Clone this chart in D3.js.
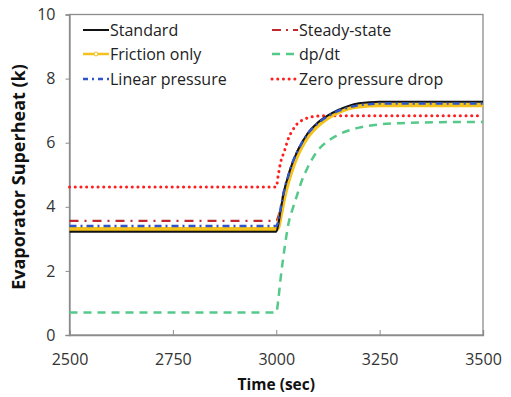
<!DOCTYPE html>
<html><head><meta charset="utf-8">
<script src="https://cdn.jsdelivr.net/npm/d3@7"></script>
<style>body{margin:0;background:#fff}svg{display:block}</style>
</head><body>
<svg id="c" width="511" height="397"></svg>
<script>
const times = [2500, 3000, 3005, 3010, 3020, 3030, 3040, 3050, 3060, 3075, 3100, 3125, 3150, 3175, 3200, 3250, 3300, 3400, 3500];
const standard = [3.22, 3.22, 3.45, 3.85, 4.55, 5.0, 5.4, 5.7, 5.95, 6.27, 6.62, 6.85, 7.02, 7.15, 7.23, 7.28, 7.28, 7.28, 7.28];
const frictionOnly = [3.30, 3.30, 3.38, 3.7, 4.35, 4.85, 5.25, 5.58, 5.85, 6.17, 6.53, 6.78, 6.96, 7.08, 7.14, 7.18, 7.18, 7.18, 7.18];
const linearPressure = [3.40, 3.40, 3.55, 3.9, 4.55, 5.0, 5.4, 5.7, 5.95, 6.26, 6.6, 6.83, 6.99, 7.1, 7.17, 7.22, 7.22, 7.22, 7.22];
const steadyState = [3.56, 3.56, 3.7, 3.95, 4.58, 5.02, 5.4, 5.7, 5.95, 6.26, 6.6, 6.83, 6.99, 7.1, 7.16, 7.2, 7.2, 7.2, 7.2];
const dpdt = [0.70, 0.70, 1.1, 1.7, 2.7, 3.5, 3.95, 4.35, 4.75, 5.2, 5.75, 6.05, 6.25, 6.38, 6.47, 6.57, 6.61, 6.64, 6.65];
const zeroDrop = [4.62, 4.62, 5.0, 5.35, 5.75, 6.15, 6.4, 6.58, 6.68, 6.77, 6.83, 6.84, 6.84, 6.84, 6.84, 6.84, 6.84, 6.84, 6.84];
const xTicks = [2500, 2750, 3000, 3250, 3500];
const yTicks = [0, 2, 4, 6, 8, 10];

const series = [
  {name: "Steady-state", values: steadyState, color: "#c0282d", width: 2.2, dash: "9,6,2,6"},
  {name: "dp/dt", values: dpdt, color: "#55c98a", width: 2.5, dash: "8,6"},
  {name: "Zero pressure drop", values: zeroDrop, color: "#ff1f1f", width: 3, dash: "0.1,5.6", cap: "round"},
  {name: "Friction only", values: frictionOnly, color: "#f5c21b", width: 4.5, dash: null},
  {name: "Standard", values: standard, color: "#111111", width: 2, dash: null},
  {name: "Linear pressure", values: linearPressure, color: "#2e56c9", width: 2.5, dash: "7,4,2,4"}
];

const svg = d3.select("#c");
const x = d3.scaleLinear().domain([2500, 3500]).range([69.5, 483]);
const y = d3.scaleLinear().domain([0, 10]).range([335, 14.5]);
const font = "'Open Sans', sans-serif";

const g = svg.append("g");
g.append("rect").attr("x", x(2500)).attr("y", y(10)).attr("width", x(3500) - x(2500)).attr("height", y(0) - y(10))
  .attr("fill", "none").attr("stroke", "#8c8c8c").attr("stroke-width", 1.3);

const xAxis = g.append("g").attr("transform", `translate(0,${y(0)})`)
  .call(d3.axisBottom(x).tickValues(xTicks).tickSize(-5).tickPadding(19).tickFormat(d3.format("d")));
const yAxis = g.append("g").attr("transform", `translate(${x(2500)},0)`)
  .call(d3.axisLeft(y).tickValues(yTicks).tickSize(4).tickPadding(10));
[xAxis, yAxis].forEach(a => {
  a.select(".domain").attr("stroke", "#8c8c8c").attr("stroke-width", 1.3);
  a.selectAll(".tick line").attr("stroke", "#8c8c8c");
  a.selectAll("text").attr("font-family", font).attr("font-size", 16).attr("fill", "#333");
});

const line = d3.line().x((d, i) => x(times[i])).y(d => y(d)).curve(d3.curveMonotoneX);
const plot = g.append("g");
series.forEach(s => {
  plot.append("path").datum(s.values).attr("d", line).attr("fill", "none")
    .attr("stroke", s.color).attr("stroke-width", s.width)
    .attr("stroke-dasharray", s.dash).attr("stroke-linecap", s.cap || "butt");
});

const legendItems = [
  {s: "Standard", col: 0, row: 0}, {s: "Friction only", col: 0, row: 1}, {s: "Linear pressure", col: 0, row: 2},
  {s: "Steady-state", col: 1, row: 0}, {s: "dp/dt", col: 1, row: 1}, {s: "Zero pressure drop", col: 1, row: 2}
];
const colX = [83, 272], rowY = [30, 54, 79];
legendItems.forEach(it => {
  const s = series.find(d => d.name === it.s);
  const lx = colX[it.col], ly = rowY[it.row];
  g.append("line").attr("x1", lx).attr("x2", lx + 26).attr("y1", ly).attr("y2", ly)
    .attr("stroke", s.color).attr("stroke-width", it.s === "Friction only" ? 2.5 : s.width)
    .attr("stroke-dasharray", it.s === "Linear pressure" ? "5,4,2,4" : it.s === "Steady-state" ? "9,5,2,5" : s.dash)
    .attr("stroke-linecap", s.cap || "butt");
  if (it.s === "Friction only") {
    g.append("circle").attr("cx", lx + 13).attr("cy", ly).attr("r", 2).attr("fill", "#fff").attr("stroke", s.color).attr("stroke-width", 1);
  }
  g.append("text").attr("x", lx + 27).attr("y", ly).attr("dy", "0.35em").text(it.s)
    .attr("font-family", font).attr("font-size", 16).attr("fill", "#222");
});

g.append("text").attr("x", (x(2500) + x(3500)) / 2).attr("y", 390).attr("text-anchor", "middle")
  .attr("font-family", font).attr("font-size", 15.5).attr("font-weight", "bold").attr("fill", "#111").text("Time (sec)");
g.append("text").attr("transform", `translate(25,177) rotate(-90)`).attr("text-anchor", "middle")
  .attr("font-family", font).attr("font-size", 18).attr("font-weight", "bold").attr("fill", "#111").text("Evaporator Superheat (k)");
</script>
</body></html>
